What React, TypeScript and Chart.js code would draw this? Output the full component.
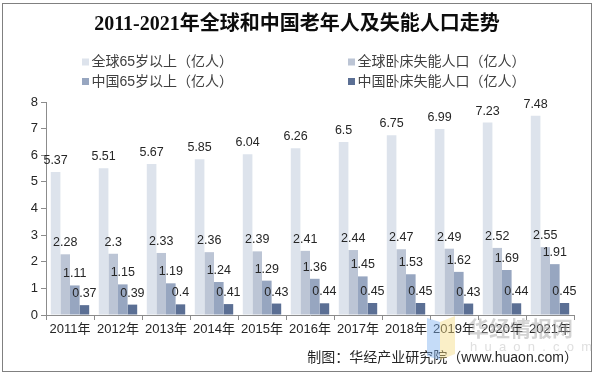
import React, { useEffect, useRef } from "react";
import { Chart, registerables } from "chart.js";

Chart.register(...registerables);

const years = ["2011年", "2012年", "2013年", "2014年", "2015年", "2016年", "2017年", "2018年", "2019年", "2020年", "2021年"];
const global65 = [5.37, 5.51, 5.67, 5.85, 6.04, 6.26, 6.5, 6.75, 6.99, 7.23, 7.48];
const globalDisabled = [2.28, 2.3, 2.33, 2.36, 2.39, 2.41, 2.44, 2.47, 2.49, 2.52, 2.55];
const china65 = [1.11, 1.15, 1.19, 1.24, 1.29, 1.36, 1.45, 1.53, 1.62, 1.69, 1.91];
const chinaDisabled = [0.37, 0.39, 0.4, 0.41, 0.43, 0.44, 0.45, 0.45, 0.43, 0.44, 0.45];

const seriesNames = ["全球65岁以上（亿人）", "全球卧床失能人口（亿人）", "中国65岁以上（亿人）", "中国卧床失能人口（亿人）"];
const seriesColors = ["#DDE3EC", "#BCC5D5", "#97A6C0", "#5B6F94"];

const titleText = "2011-2021年全球和中国老年人及失能人口走势";
const sourceText = "制图：华经产业研究院（www.huaon.com）";

const SANS = '"Liberation Sans", Arial, "Noto Sans CJK SC", sans-serif';

const framePlugin = {
  id: "frame",
  beforeDraw(chart: any) {
    const ctx = chart.ctx;
    ctx.save();
    ctx.fillStyle = "#ffffff";
    ctx.fillRect(0, 0, chart.width, chart.height);
    ctx.strokeStyle = "#808080";
    ctx.lineWidth = 1;
    ctx.strokeRect(2.5, 3.5, 589, 368);
    ctx.restore();
  },
  afterDraw(chart: any) {
    const ctx = chart.ctx;
    ctx.save();
    // title
    ctx.font = 'bold 20px "Liberation Serif", "Noto Sans CJK SC", serif';
    ctx.fillStyle = "#0d0d0d";
    ctx.textAlign = "center";
    ctx.textBaseline = "middle";
    ctx.fillText(titleText, 297, 25);
    // legend
    const cols = [82, 348];
    const rows = [62, 81.5];
    ctx.font = "14px " + SANS;
    ctx.textAlign = "left";
    seriesNames.forEach((name, i) => {
      const x = cols[i % 2];
      const y = rows[Math.floor(i / 2)];
      ctx.fillStyle = seriesColors[i];
      ctx.fillRect(x, y - 3.5, 7, 7);
      ctx.fillStyle = "#404040";
      ctx.fillText(name, x + 9.5, y + 0.5);
    });
    // source
    ctx.font = "14px " + SANS;
    ctx.textAlign = "right";
    ctx.fillStyle = "#262626";
    ctx.fillText(sourceText, 578, 358);
    // watermark
    ctx.globalAlpha = 0.45;
    ctx.fillStyle = "#7fb2f0";
    ctx.beginPath();
    ctx.moveTo(427, 318);
    ctx.lineTo(440, 322);
    ctx.lineTo(440, 360);
    ctx.lineTo(427, 356);
    ctx.closePath();
    ctx.fill();
    ctx.fillStyle = "#f5dc82";
    ctx.beginPath();
    ctx.moveTo(440, 322);
    ctx.lineTo(455, 316);
    ctx.lineTo(455, 354);
    ctx.lineTo(440, 360);
    ctx.closePath();
    ctx.fill();
    ctx.globalAlpha = 0.5;
    ctx.fillStyle = "#a8a8a8";
    ctx.font = 'bold 21px "Noto Sans CJK SC", sans-serif';
    ctx.textAlign = "left";
    ctx.fillText("华经情报网", 468, 328);
    ctx.font = "13px " + SANS;
    ctx.fillStyle = "#c0c0c0";
    ctx.fillText("h  u  a  o  n  .  c  o  m", 470, 347);
    ctx.restore();
  },
};

const labelPlugin = {
  id: "barLabels",
  afterDatasetsDraw(chart: any) {
    const ctx = chart.ctx;
    ctx.save();
    ctx.font = "12.5px " + SANS;
    ctx.fillStyle = "#262626";
    ctx.textAlign = "center";
    ctx.textBaseline = "alphabetic";
    chart.data.datasets.forEach((ds: any, i: number) => {
      const meta = chart.getDatasetMeta(i);
      meta.data.forEach((bar: any, j: number) => {
        ctx.fillText(String(ds.data[j]), bar.x, bar.y - 8);
      });
    });
    ctx.restore();
  },
};

export default function App() {
  const ref = useRef<HTMLCanvasElement | null>(null);
  useEffect(() => {
    if (!ref.current) return;
    const datasets = [global65, globalDisabled, china65, chinaDisabled].map((d, i) => ({
      label: seriesNames[i],
      data: d,
      backgroundColor: seriesColors[i],
      borderWidth: 0,
      categoryPercentage: 0.8,
      barPercentage: 1.0,
    }));
    const chart = new Chart(ref.current, {
      type: "bar",
      data: { labels: years, datasets },
      options: {
        responsive: false,
        animation: false,
        layout: { padding: { top: 102, left: 0, right: 21, bottom: 0 } },
        plugins: {
          legend: { display: false },
          title: { display: false },
          tooltip: { enabled: false },
        },
        scales: {
          x: {
            offset: true,
            grid: { display: true, drawOnChartArea: false, drawTicks: true, tickLength: 5, offset: true, color: "#8c8c8c" },
            border: { display: true, color: "#8c8c8c" },
            ticks: { color: "#262626", font: { family: SANS, size: 13 }, padding: 2, maxRotation: 0, autoSkip: false },
            afterFit: (s: any) => { s.height = 60; },
          },
          y: {
            min: 0,
            max: 8,
            grid: { display: true, drawOnChartArea: false, drawTicks: true, tickLength: 5, color: "#8c8c8c" },
            border: { display: true, color: "#8c8c8c" },
            ticks: { stepSize: 1, color: "#262626", font: { family: SANS, size: 13 }, padding: 3 },
            afterFit: (s: any) => { s.width = 46; },
          },
        },
      },
      plugins: [framePlugin, labelPlugin],
    });
    return () => chart.destroy();
  }, []);
  return (
    <div style={{ position: "absolute", left: 0, top: 0, width: 595, height: 375 }}>
      <canvas ref={ref} width={595} height={375} style={{ width: 595, height: 375 }} />
    </div>
  );
}
